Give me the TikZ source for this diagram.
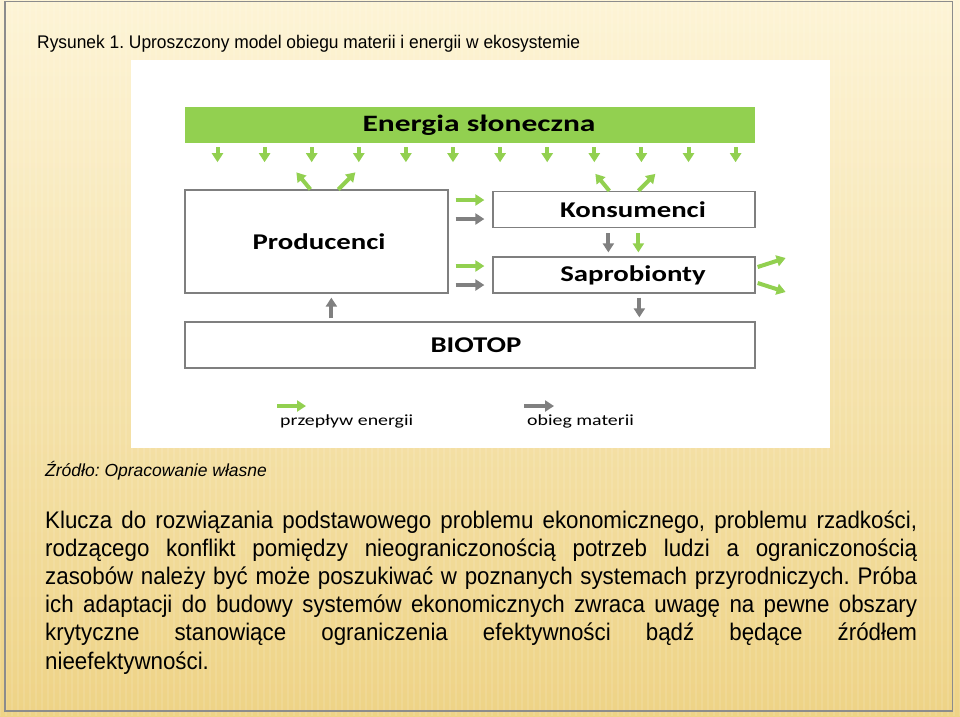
\documentclass[tikz,border=0pt]{standalone}
\usepackage{fontspec}
\setmainfont{Liberation Sans}
\newfontfamily\diagfont{Carlito}[FakeStretch=1.28]
\newfontfamily\sunfont{Carlito}[FakeStretch=1.34]
\newfontfamily\bodyfont{Liberation Sans}[FakeStretch=0.93]
\newfontfamily\headfont{Liberation Sans}[FakeStretch=0.95]
\usetikzlibrary{arrows.meta,calc}
\definecolor{sungreen}{HTML}{92D050}
\definecolor{matgray}{HTML}{808080}
\definecolor{boxgray}{HTML}{7F7F7F}
\definecolor{bgtop}{HTML}{FDF4D6}
\definecolor{bgmid}{HTML}{F7E4AE}
\definecolor{bgbot}{HTML}{EED386}
\definecolor{framegray}{HTML}{8C8C8C}
\frenchspacing
\begin{document}
\begin{tikzpicture}[x=1pt,y=-1pt,
  boxnode/.style={draw=boxgray, line width=1.3pt, fill=white, inner sep=0pt,
    font=\diagfont\bfseries\fontsize{22.5}{26}\selectfont, text=black},
  garrow/.style={draw=sungreen, line width=4pt, -{Triangle[length=9pt,width=11pt]}},
  marrow/.style={draw=matgray, line width=4pt, -{Triangle[length=9pt,width=11pt]}},
  legendtext/.style={inner sep=0pt, anchor=west, font=\diagfont\fontsize{15.5}{18}\selectfont},
  bodytext/.style={inner sep=0pt, anchor=base west, font=\bodyfont\fontsize{24}{28}\selectfont},
]
\useasboundingbox (0,0) rectangle (960,716);
% background slide
\shade[top color=bgtop, middle color=bgmid, bottom color=bgbot] (0,0) rectangle (960,716);
\foreach \s in {0,6,...,960} {
  \draw[white, opacity=0.10, line width=1.6pt] (\s,0) -- (\s,716);
}
\draw[framegray, line width=1.5pt] (5,1.5) rectangle (952.5,711);

% title
\node[inner sep=0pt, anchor=base west, font=\headfont\fontsize{18.3}{22}\selectfont] (title) at (37,48)
  {Rysunek 1. Uproszczony model obiegu materii i energii w ekosystemie};

% white figure panel
\fill[white] (131,60) rectangle (830,448);

% diagram
\node[fill=sungreen, inner sep=0pt, minimum width=570pt, minimum height=36pt,
  font=\sunfont\bfseries\fontsize{23.5}{26}\selectfont] (sun) at (470,125)
  {\hspace*{18pt}Energia słoneczna};
\node[boxnode, minimum width=263pt, minimum height=103pt] (prod) at (316.5,241.5) {\hspace*{5pt}Producenci};
\node[boxnode, minimum width=262pt, minimum height=36pt] (kons) at (624,209.5) {\hspace*{18pt}Konsumenci};
\node[boxnode, minimum width=262pt, minimum height=36pt] (sapr) at (624,275) {\hspace*{18pt}Saprobionty};
\node[boxnode, minimum width=570pt, minimum height=46pt] (bio) at (470,345) {\hspace*{12pt}BIOTOP};

% solar energy arrows
\foreach \i in {0,...,11} {
  \draw[garrow] ($(sun.south west)+({32.7+47.1*\i},4)$) -- ++(0,15);
}
% reflected / emitted energy
\draw[garrow] ($(prod.north west)+(126,0)$) -- ++(-14,-17);
\draw[garrow] ($(prod.north west)+(154,0)$) -- ++(17,-17);
\draw[garrow] ($(kons.north west)+(117,0)$) -- ++(-14,-17);
\draw[garrow] ($(kons.north west)+(146,0)$) -- ++(17,-17);

% producers -> consumers / saprobionts
\draw[garrow] ($(prod.east |- kons.center)+(7,-9.5)$) -- ($(kons.west)+(-8,-9.5)$);
\draw[marrow] ($(prod.east |- kons.center)+(7,9.5)$) -- ($(kons.west)+(-8,9.5)$);
\draw[garrow] ($(prod.east |- sapr.center)+(7,-9)$) -- ($(sapr.west)+(-8,-9)$);
\draw[marrow] ($(prod.east |- sapr.center)+(7,10)$) -- ($(sapr.west)+(-8,10)$);

% consumers -> saprobionts
\draw[marrow] ($(kons.south west)+(116,5)$) -- ($(sapr.north west)+(116,-4)$);
\draw[garrow] ($(kons.south west)+(146,5)$) -- ($(sapr.north west)+(146,-4)$);

% saprobionts emit energy
\draw[garrow] ($(sapr.east)+(2,-8)$) -- ++(28,-9);
\draw[garrow] ($(sapr.east)+(2,8)$) -- ++(28,9);

% matter cycle with biotope
\draw[marrow] ($(bio.north west)+(147,-3)$) -- ($(prod.south west)+(147,4)$);
\draw[marrow] ($(sapr.south west)+(147,4)$) -- ($(bio.north west)+(455,-4)$);

% legend
\node[legendtext] (leg1) at (280,421) {przepływ energii};
\node[legendtext] (leg2) at (527,421) {obieg materii};
\draw[garrow] ($(leg1.west)+(-3,-15)$) -- ++(29,0);
\draw[marrow] ($(leg2.west)+(-3,-15)$) -- ++(30,0);

% source
\node[inner sep=0pt, anchor=base west, font=\itshape\fontsize{17.5}{20}\selectfont] (src) at (45,476)
  {Źródło: Opracowanie własne};

% paragraph
\node[bodytext] (l1) at (45,528) {\makebox[872pt][s]{Klucza do rozwiązania podstawowego problemu ekonomicznego, problemu rzadkości,}};
\node[bodytext] (l2) at (45,556.2) {\makebox[872pt][s]{rodzącego konflikt pomiędzy nieograniczonością potrzeb ludzi a ograniczonością}};
\node[bodytext] (l3) at (45,584.4) {\makebox[872pt][s]{zasobów należy być może poszukiwać w poznanych systemach przyrodniczych. Próba}};
\node[bodytext] (l4) at (45,612.6) {\makebox[872pt][s]{ich adaptacji do budowy systemów ekonomicznych zwraca uwagę na pewne obszary}};
\node[bodytext] (l5) at (45,640.8) {\makebox[872pt][s]{krytyczne stanowiące ograniczenia efektywności bądź będące źródłem}};
\node[bodytext] (l6) at (45,669) {nieefektywności.};
\end{tikzpicture}
\end{document}
